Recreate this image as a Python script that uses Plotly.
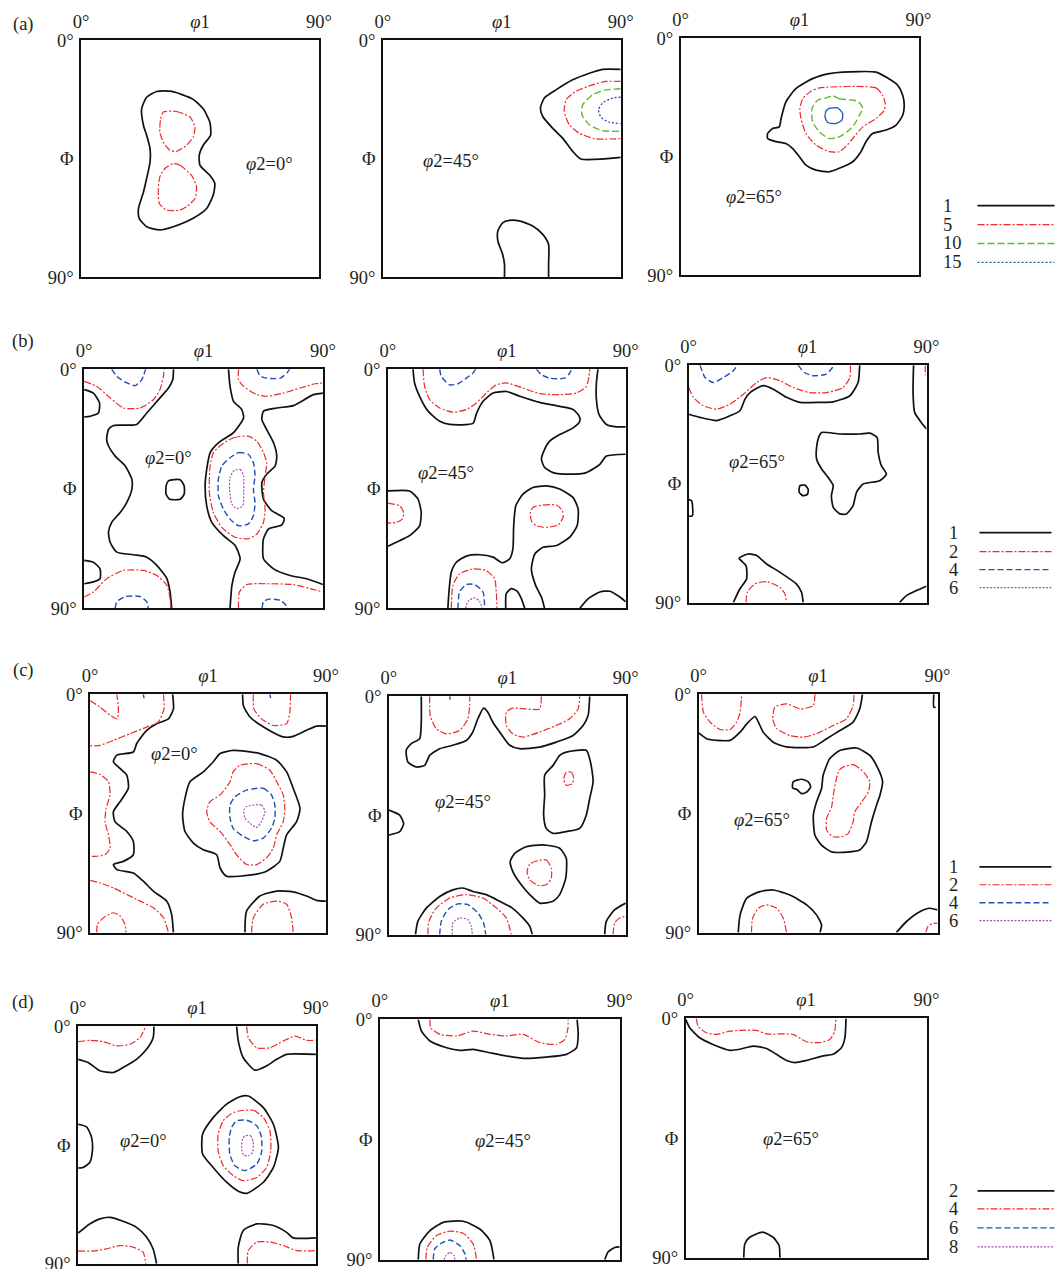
import plotly.graph_objects as go

# ---------------- data: contour lines of ODF sections (phi1, Phi in degrees) ----------------
ROW_LABELS = ["(a)", "(b)", "(c)", "(d)"]
LEVELS_A = ["1", "5", "10", "15"]
LEVELS_B = ["1", "2", "4", "6"]
LEVELS_C = ["1", "2", "4", "6"]
LEVELS_D = ["2", "4", "6", "8"]
SECTION_LABELS = ["<i>φ</i>2=0°", "<i>φ</i>2=45°", "<i>φ</i>2=65°"]
X_TICKS = ["0°", "<i>φ</i>1", "90°"]
Y_TICKS = ["0°", "Φ", "90°"]

# ---- (a) phi2=0
A1_K0 = [(28.6,19.5),(34.3,19.5),(42.4,22.5),(46.2,26.1),(48.7,31.1),(49.0,36.1),(46.2,39.9),(44.7,43.7),(45.0,47.5),(48.7,51.3),(50.6,54.4),(50.0,58.8),(47.5,63.9),(42.4,67.6),(34.9,70.8),(29.8,72.0),(24.8,70.8),(22.0,67.6),(21.7,63.9),(23.6,57.6),(24.8,52.5),(26.1,46.2),(26.1,41.2),(24.8,36.1),(23.6,32.4),(22.9,26.1),(24.8,21.7)]
A1_K1_UP = [(31.1,27.3),(36.1,27.1),(41.2,29.2),(43.1,33.0),(42.4,36.8),(39.9,39.9),(36.1,42.2),(33.6,41.8),(31.1,38.7),(29.8,34.9),(30.1,29.8)]
A1_K1_LO = [(34.9,46.9),(37.4,47.5),(41.8,51.3),(43.7,55.7),(43.1,60.1),(39.9,63.2),(37.4,64.5),(32.4,64.5),(29.6,62.0),(29.2,56.3),(29.8,51.9),(31.7,48.7)]
# ---- (a) phi2=45
A2_K0_TOP = [(90,11.1),(83.1,11.1),(78.1,12.6),(71.8,15.1),(65.5,18.9),(61.1,22.0),(59.6,25.8),(60.5,29.0),(64.2,33.4),(68.0,37.2),(71.8,42.2),(74.9,45.1),(90,44.5)]
A2_K1 = [(90,15.7),(84.4,15.7),(79.3,17.0),(73.0,19.5),(69.3,22.7),(68.6,27.1),(70.5,32.1),(74.3,35.3),(80.0,37.4),(90,37.4)]
A2_K2 = [(90,18.5),(84.4,18.9),(79.3,20.8),(75.6,24.6),(75.3,28.3),(78.1,32.1),(83.1,34.4),(90,34.6)]
A2_K3 = [(90,21.7),(86.9,22.0),(83.1,23.9),(81.6,26.4),(82.5,29.3),(85.6,31.1),(90,31.7)]
A2_K0_BOT = [(46.0,90),(46.0,85.0),(45.3,81.2),(43.5,76.2),(43.5,72.4),(45.3,69.3),(47.9,68.4),(51.6,68.6),(56.7,70.5),(60.5,73.7),(62.7,77.5),(62.7,85.0),(62.7,90)]
# ---- (a) phi2=65
A3_K0 = [(61.3,12.9),(73.9,12.9),(77.7,14.8),(82.1,17.9),(84.0,21.7),(84.6,25.5),(84.0,29.3),(81.5,33.0),(77.7,34.9),(72.6,36.2),(70.1,39.3),(68.2,43.1),(65.1,46.9),(60.0,49.4),(56.2,50.7),(51.2,50.1),(47.4,48.2),(44.9,45.0),(42.4,41.9),(39.8,40.0),(36.1,39.3),(32.9,38.1),(32.9,36.2),(34.8,34.3),(37.3,33.7),(38.0,30.5),(39.8,24.2),(43.6,19.2),(49.9,15.4),(56.2,13.5)]
A3_K1 = [(52.5,18.9),(73.9,18.9),(76.4,21.7),(77.4,24.8),(77.0,27.4),(73.9,30.5),(68.9,33.7),(65.1,38.1),(62.5,41.2),(60.0,43.1),(56.2,43.1),(51.2,40.6),(47.4,36.2),(45.5,30.5),(45.1,26.7),(46.2,23.0),(49.3,20.2)]
A3_K2 = [(57.5,21.9),(60.0,23.0),(67.0,24.0),(68.9,26.7),(67.6,29.3),(66.3,31.8),(63.8,34.9),(60.0,37.5),(56.2,38.1),(52.5,35.6),(49.9,31.8),(49.7,26.7),(51.8,23.6),(55.0,22.7)]
A3_K3 = [(56.2,26.7),(59.4,26.5),(61.3,28.6),(61.0,31.1),(58.8,32.4),(55.6,32.0),(54.6,29.9),(55.0,27.7)]

# ---- (b) phi2=0
B1_K0_L = [(33.7,0),(33.4,4.0),(31.8,7.1),(28.6,10.8),(23.6,16.5),(19.8,20.8),(11.1,21.2),(9.2,22.7),(8.5,26.4),(9.2,28.9),(11.7,32.7),(15.5,36.4),(18.0,41.4),(18.0,45.1),(16.1,50.1),(13.6,53.9),(10.4,57.6),(9.2,61.3),(9.8,65.1),(12.3,68.8),(18.6,69.8),(23.6,70.7),(27.4,73.8),(31.2,78.8),(32.4,83.8),(33.0,90)]
B1_K0_A = [(54.4,0),(55.0,6.5),(56.3,12.1),(59.4,15.2),(60.1,18.3),(56.3,23.9),(50.6,27.7),(47.5,31.4),(46.2,37.7),(45.6,43.9),(46.2,51.4),(48.1,57.6),(52.5,62.6),(56.9,66.3),(58.8,71.3),(56.9,76.3),(55.7,81.3),(55.0,90)]
B1_K0_B = [(90,9.0),(86.4,9.6),(78.9,13.7),(72.6,14.6),(67.6,15.8),(67.0,19.0),(68.8,22.7),(71.4,27.7),(72.6,32.7),(72.0,36.4),(68.8,39.5),(67.0,42.6),(67.6,48.9),(70.7,53.2),(75.4,56.1),(74.5,58.6),(69.5,60.1),(67.6,63.8),(67.6,71.3),(71.4,75.1),(77.6,77.6),(83.9,78.8),(90,81.0)]
B1_K0_E1 = [(0,7.7),(3.5,9.0),(5.8,12.7),(5.4,16.5),(2.3,17.7),(0,18.0)]
B1_K0_E2 = [(0,71.9),(3.5,72.6),(6.0,75.1),(6.0,78.8),(3.5,80.0),(0,80.7)]
B1_K0_DOT = [(31.8,42.0),(36.2,41.6),(37.7,43.9),(37.7,47.0),(36.2,48.9),(32.2,48.9),(30.9,47.0),(30.9,43.9)]
B1_K1_TL = [(0,4.6),(4.8,6.5),(9.8,10.8),(14.8,14.6),(21.1,14.6),(26.1,11.5),(28.6,7.7),(29.9,2.7),(30.2,0)]
B1_K2_TL = [(10.4,0),(12.3,2.7),(16.1,5.2),(19.2,6.2),(21.7,4.0),(23.2,0)]
B1_K1_TR = [(58.2,0),(58.2,4.0),(60.1,6.5),(65.1,9.6),(68.8,10.2),(75.1,9.0),(81.4,7.1),(87.1,5.5),(90,5.2)]
B1_K2_TR = [(65.1,0),(66.3,2.5),(68.8,3.4),(73.9,3.4),(76.4,1.5),(77.4,0)]
B1_K1_C = [(51.9,28.3),(56.3,25.8),(61.9,25.2),(65.1,27.1),(67.6,31.4),(68.8,35.2),(68.2,40.1),(67.6,46.4),(68.2,52.6),(67.6,57.6),(65.1,62.0),(61.9,63.8),(56.9,63.2),(51.9,59.5),(48.7,53.9),(47.2,46.4),(47.5,36.4),(48.7,31.4)]
B1_K2_C = [(55.0,33.3),(58.2,31.4),(61.9,32.0),(63.8,35.2),(64.4,40.1),(63.8,45.1),(64.4,50.1),(63.8,55.1),(61.9,58.2),(58.2,58.9),(55.0,56.4),(52.5,52.6),(50.6,47.6),(50.6,41.4),(51.9,36.4)]
B1_K3_C = [(56.3,38.3),(58.8,37.7),(60.1,40.1),(60.1,46.4),(59.8,51.4),(57.5,52.4),(55.7,50.7),(54.8,45.1),(55.0,40.8)]
B1_K1_BL = [(0,85.7),(3.5,83.8),(8.5,78.8),(14.8,75.7),(22.4,75.7),(27.4,77.6),(31.2,81.3),(32.4,86.3),(32.7,90)]
B1_K2_BL = [(11.7,90),(12.3,87.5),(15.5,85.5),(21.1,85.5),(23.6,87.5),(24.2,90)]
B1_K1_BR = [(58.2,90),(58.5,83.8),(61.3,81.0),(68.8,80.7),(78.9,81.0),(85.2,82.5),(90,83.8)]
B1_K2_BR = [(67.0,90),(67.6,87.5),(69.5,86.5),(73.9,86.9),(76.1,88.8),(76.4,90)]

# ---- (b) phi2=45
B2_K0_1 = [(9.5,0),(10.1,5.2),(12.0,10.2),(15.2,15.8),(19.6,19.6),(23.4,20.8),(32.2,20.4),(33.5,16.7),(36.0,12.1),(39.8,9.0),(44.8,8.4),(49.9,10.2),(57.4,12.5),(65.0,14.0),(70.1,15.2),(72.3,17.5),(72.6,19.6),(70.1,22.1),(65.0,24.6),(61.2,27.1),(59.0,30.8),(58.1,33.9),(59.3,37.0),(62.5,38.9),(68.8,39.5),(75.1,38.9),(80.2,35.8),(82.7,32.7),(90,32.0)]
B2_K0_2 = [(79.5,0),(78.9,5.2),(78.9,11.5),(79.9,17.1),(82.7,20.8),(86.5,21.7),(90,21.7)]
B2_K0_3 = [(0,45.8),(8.2,45.8),(11.4,48.9),(12.6,53.9),(12.0,58.9),(8.2,62.6),(4.4,64.5),(0,66.6)]
B2_K1_3 = [(0,50.4),(4.4,51.4),(6.0,53.9),(5.4,56.4),(3.2,57.6),(0,57.9)]
B2_K0_4 = [(22.7,90),(23.1,83.8),(24.0,76.3),(25.9,72.6),(29.7,70.3),(34.7,69.8),(39.8,70.7),(43.3,72.8),(46.1,71.3),(47.3,67.6),(47.6,58.9),(48.4,51.4),(51.1,47.0),(54.9,44.5),(60.0,43.9),(65.0,45.1),(70.1,48.3),(72.0,52.6),(71.6,58.9),(68.8,63.2),(63.8,66.3),(58.7,67.0),(55.6,69.5),(54.3,75.1),(55.9,81.3),(58.1,85.7),(59.3,90)]
B2_K0_5 = [(44.6,90),(44.8,84.4),(46.7,82.5),(48.9,83.5),(50.5,86.3),(51.8,90)]
B2_K0_6 = [(72.6,90),(75.8,86.3),(80.2,83.8),(84.0,83.5),(87.8,85.7),(90,87.5)]
B2_K1_M = [(54.9,52.0),(58.7,51.1),(63.8,51.1),(66.0,53.2),(66.3,55.7),(64.4,58.6),(60.0,59.5),(56.2,58.9),(54.3,57.0),(53.9,53.9)]
B2_K1_T = [(13.3,0),(13.9,6.5),(15.8,11.5),(19.6,14.6),(24.6,16.2),(29.7,15.2),(33.5,12.7),(37.2,9.0),(41.0,5.9),(44.8,5.2),(51.1,7.1),(57.4,9.2),(65.0,9.6),(71.3,9.0),(75.1,6.5),(76.1,2.7),(76.4,0)]
B2_K2_T1 = [(19.6,0),(20.2,2.7),(23.4,5.9),(26.5,5.5),(29.7,3.4),(32.2,1.5),(33.2,0)]
B2_K2_T2 = [(56.2,0),(58.1,2.1),(61.2,3.4),(66.9,3.4),(68.8,1.5),(69.4,0)]
B2_K1_B = [(24.0,90),(24.6,81.3),(27.1,77.0),(32.2,75.1),(37.2,75.7),(40.4,78.8),(41.0,83.8),(41.3,90)]
B2_K2_B = [(26.5,90),(27.1,83.8),(29.7,81.0),(32.8,81.0),(36.0,83.8),(36.6,90)]
B2_K3_B = [(29.4,90),(30.3,87.3),(32.8,86.0),(34.7,87.3),(35.7,90)]

# ---- (b) phi2=65
B3_K0_T = [(0,18.6),(4.3,19.8),(10.6,21.0),(15.6,19.2),(19.4,17.3),(21.3,12.9),(23.2,10.4),(28.2,7.8),(32.0,9.1),(37.0,12.2),(42.1,14.1),(49.6,14.1),(54.7,13.9),(61.0,11.6),(64.1,6.6),(64.7,0)]
B3_K1_T = [(0,8.5),(1.8,12.2),(5.5,15.4),(10.6,16.7),(15.6,14.8),(20.7,11.0),(25.7,6.6),(29.5,4.7),(34.5,5.9),(39.5,8.5),(45.8,10.4),(52.1,10.4),(58.4,8.5),(61.0,4.7),(61.2,0)]
B3_K2_T1 = [(4.3,0),(6.2,4.7),(9.3,6.6),(13.1,4.7),(16.9,2.1),(18.4,0)]
B3_K2_T2 = [(41.4,0),(43.8,2.8),(47.1,4.0),(52.1,3.4),(54.4,0.9),(54.9,0)]
B3_K0_R = [(85.1,0),(84.9,10.4),(85.5,17.9),(88.0,21.7),(90,24.2)]
B3_K1_R = [(89.5,0),(89.5,3.8)]
B3_K0_BLOB = [(50.3,25.5),(57.2,26.1),(64.7,26.1),(68.5,25.8),(71.3,27.4),(71.7,33.1),(72.9,38.1),(74.8,41.3),(72.3,43.8),(66.0,45.1),(63.5,48.2),(62.2,53.3),(59.7,56.4),(57.2,56.4),(54.7,53.9),(54.0,49.5),(54.7,45.7),(52.8,42.6),(50.3,39.4),(48.4,35.6),(48.4,31.2),(49.4,26.8)]
B3_K0_DOT = [(42.1,45.7),(44.0,45.5),(45.2,47.0),(45.0,48.9),(43.3,49.5),(41.8,48.2)]
B3_K0_L = [(0,51.0),(1.1,51.4),(1.4,57.1),(0,57.3)]
B3_K0_B = [(16.9,90),(19.4,84.8),(21.9,81.1),(21.7,76.0),(19.1,73.2),(22.5,71.6),(25.7,72.2),(29.5,75.4),(34.5,78.5),(40.8,83.0),(42.7,86.1),(43.3,90)]
B3_K1_B = [(21.7,90),(22.2,86.1),(25.1,82.9),(29.5,82.1),(34.5,84.2),(36.4,86.7),(37.0,90)]
B3_K0_BR = [(79.8,90),(82.4,87.4),(86.1,85.5),(90,83.8)]

# ---- (c) phi2=0
C1_K0_L = [(31.5,0),(31.8,5.5),(29.9,9.3),(25.4,11.1),(21.6,13.6),(17.8,18.6),(16.5,21.8),(10.2,23.0),(8.9,25.5),(11.4,28.0),(14.0,30.5),(14.6,35.5),(11.4,40.6),(8.9,44.3),(9.5,48.1),(14.0,51.8),(16.5,55.6),(16.5,60.6),(12.7,63.1),(8.9,64.3),(10.2,66.2),(16.5,67.5),(20.3,70.6),(24.1,74.3),(29.2,78.1),(31.1,83.1),(31.8,90)]
C1_K1_TL1 = [(0,2.4),(3.8,4.9),(7.6,7.8),(10.4,9.3),(10.8,5.5),(10.2,0)]
C1_K1_TL2 = [(28.0,0),(28.2,5.5),(26.0,10.5),(21.6,12.4),(15.2,14.9),(8.9,17.4),(3.8,19.3),(0,19.5)]
C1_K2_T1 = [(20.3,0),(20.6,1.5)]
C1_K2_T2 = [(68.6,0),(68.9,1.5)]
C1_K1_ML = [(0,29.3),(3.8,30.3),(7.0,33.0),(7.6,38.0),(6.1,43.1),(5.7,48.1),(7.0,53.1),(7.6,58.1),(5.7,60.6),(1.9,61.2),(0,61.2)]
C1_K1_BL1 = [(0,70.3),(3.8,71.2),(8.9,73.1),(14.0,75.6),(19.1,78.1),(24.1,80.6),(28.0,84.4),(29.9,90)]
C1_K1_BL2 = [(2.5,90),(2.8,86.9),(5.1,84.4),(8.9,82.5),(11.4,83.7),(13.3,86.9),(13.7,90)]
C1_K0_TR = [(58.2,0),(58.5,4.3),(61.0,8.6),(67.3,13.0),(73.7,16.1),(77.5,15.9),(82.6,13.6),(86.4,12.0),(90,12.0)]
C1_K1_TR = [(62.3,0),(62.5,5.5),(65.4,9.3),(69.9,11.8),(75.0,11.1),(76.2,6.8),(76.5,0)]
C1_K0_C = [(49.6,22.4),(54.6,21.2),(64.8,22.4),(71.2,24.9),(75.0,29.3),(77.5,35.5),(80.1,43.1),(78.8,48.1),(75.0,53.1),(73.7,58.1),(72.4,63.1),(67.3,66.8),(62.3,68.1),(52.1,68.7),(49.6,65.6),(48.3,60.6),(43.2,58.7),(39.4,56.2),(36.2,51.8),(35.3,45.6),(36.2,39.3),(38.1,33.0),(43.2,29.3),(47.0,25.5)]
C1_K1_C = [(57.2,26.8),(63.5,26.2),(68.6,28.7),(71.2,33.0),(73.7,38.0),(74.3,43.1),(73.7,48.1),(71.2,53.1),(69.9,58.1),(67.3,61.8),(63.5,64.3),(59.7,64.3),(55.9,60.6),(53.4,56.8),(49.6,51.8),(45.7,48.1),(44.5,44.3),(45.7,40.6),(49.6,38.0),(53.4,33.0),(54.6,29.3)]
C1_K2_C = [(59.7,36.2),(66.1,35.5),(69.2,38.0),(70.5,41.8),(70.5,46.8),(69.2,50.6),(66.1,54.3),(62.3,55.3),(58.5,53.7),(54.6,50.6),(53.4,46.8),(53.4,41.8),(55.3,38.7)]
C1_K3_C = [(59.7,42.4),(65.4,41.8),(66.7,44.3),(65.4,48.1),(63.5,50.3),(61.0,48.7),(59.1,46.8),(58.7,43.7)]
C1_K0_BR = [(59.1,90),(59.7,81.9),(64.8,76.2),(71.2,74.3),(77.5,74.6),(82.6,76.2),(86.4,77.8),(90,78.1)]
C1_K1_BR = [(61.6,90),(62.3,84.4),(66.1,79.3),(71.2,78.1),(75.0,79.3),(76.9,84.4),(77.5,90)]

# ---- (c) phi2=45
C2_K0_T = [(12.3,0),(12.3,9.8),(11.7,16.0),(8.5,17.9),(6.6,20.4),(7.2,24.8),(10.4,26.7),(13.6,26.1),(15.5,22.3),(19.3,19.8),(24.3,18.5),(29.4,16.7),(31.9,13.5),(33.8,8.5),(36.0,4.5),(37.6,6.0),(39.5,9.8),(42.1,13.5),(45.9,18.5),(49.7,19.8),(57.3,19.2),(63.6,17.3),(70.0,14.8),(73.8,11.0),(75.7,7.3),(76.3,0)]
C2_K1_T1 = [(15.5,0),(15.7,7.3),(18.0,12.3),(21.8,14.2),(26.9,12.9),(30.0,8.5),(30.7,3.5),(30.7,0)]
C2_K2_T = [(23.1,0),(23.3,1.3)]
C2_K1_T2 = [(57.9,0),(57.3,4.8),(52.2,4.8),(47.1,4.5),(44.6,6.0),(44.6,11.0),(47.1,14.2),(51.0,15.4),(57.3,13.5),(63.6,11.0),(68.7,8.5),(71.9,4.8),(72.5,0)]
C2_K0_R = [(67.4,21.1),(75.0,20.4),(76.6,24.8),(77.6,32.3),(76.3,38.6),(75.0,44.9),(72.5,49.9),(67.4,51.1),(62.4,51.8),(59.8,49.9),(58.8,44.9),(59.2,37.3),(59.2,29.8),(62.4,26.1),(64.9,22.3)]
C2_K1_R = [(67.4,28.8),(69.3,28.6),(70.2,30.8),(69.7,33.0),(67.4,33.6),(66.4,31.3)]
C2_K0_L = [(0,43.0),(4.1,44.9),(5.6,48.1),(4.1,51.1),(0,52.4)]
C2_K0_M = [(52.2,56.8),(58.6,56.1),(64.9,57.4),(67.4,61.2),(67.2,68.7),(64.9,74.9),(62.4,77.4),(57.3,78.1),(53.5,74.9),(50.3,71.2),(47.1,66.2),(46.1,62.4),(47.8,59.3)]
C2_K1_M = [(56.0,62.2),(59.8,61.8),(61.7,64.9),(61.7,68.7),(59.8,71.2),(56.7,71.4),(53.5,69.3),(52.5,66.2),(53.5,63.4)]
C2_K0_B = [(10.1,90),(11.0,85.0),(14.2,80.0),(19.3,75.6),(24.3,73.1),(28.1,72.4),(31.9,73.7),(37.0,74.9),(42.1,77.4),(46.8,79.9),(50.9,83.7),(53.5,86.8),(54.5,90)]
C2_K1_B = [(14.8,90),(15.2,85.0),(18.0,80.0),(23.1,76.2),(29.4,74.9),(35.7,76.2),(40.8,79.9),(44.6,83.7),(46.5,90)]
C2_K2_B = [(19.3,90),(19.9,85.0),(22.4,80.6),(26.2,78.4),(30.0,78.7),(33.8,81.8),(36.0,85.6),(36.8,90)]
C2_K3_B = [(24.1,90),(24.3,85.6),(26.9,83.7),(30.0,84.3),(31.3,86.8),(31.7,90)]
C2_K0_BR = [(82.0,90),(82.6,85.0),(85.8,80.6),(90,78.1)]
C2_K1_BR = [(85.2,90),(85.8,85.6),(87.7,83.7),(90,83.1)]

# ---- (c) phi2=65
C3_K0_T = [(0,14.6),(3.0,16.8),(6.8,17.4),(11.8,17.4),(15.6,14.3),(18.1,11.2),(21.2,8.4),(22.5,10.5),(24.3,14.3),(28.1,18.1),(33.1,19.9),(43.2,19.9),(48.2,16.8),(53.2,13.7),(58.2,10.5),(60.7,5.5),(61.7,0)]
C3_K1_T1 = [(1.1,0),(1.8,6.8),(4.3,10.5),(8.0,13.3),(11.8,13.3),(14.3,10.5),(15.6,6.8),(16.2,0)]
C3_K1_T2 = [(43.8,0),(43.2,4.3),(38.1,5.5),(33.1,3.6),(28.7,4.9),(27.9,9.3),(29.4,13.0),(34.4,15.6),(39.4,16.2),(44.4,14.9),(50.7,11.8),(55.7,9.3),(58.2,4.3),(58.5,0)]
C3_K0_R = [(88.6,0),(88.6,4.9),(89.3,4.9)]
C3_K0_BLOB = [(53.2,21.2),(59.5,20.3),(64.5,23.1),(67.6,28.1),(69.3,33.1),(68.3,38.1),(67.0,41.9),(65.1,48.2),(63.2,55.7),(60.7,58.8),(57.0,59.5),(50.1,59.5),(46.3,57.0),(43.8,53.2),(43.2,45.7),(44.4,40.7),(46.3,35.6),(46.9,30.6),(49.4,24.3)]
C3_K1_BLOB = [(54.5,27.5),(58.2,26.6),(62.2,29.4),(64.5,33.1),(63.9,36.9),(61.4,40.7),(58.8,44.4),(58.2,48.2),(56.3,52.6),(53.8,53.8),(50.7,53.8),(48.2,51.3),(48.2,46.9),(50.1,42.5),(50.7,38.1),(51.9,31.9),(52.9,28.7)]
C3_K0_DOT = [(35.6,33.1),(38.8,32.1),(41.3,33.1),(42.2,35.0),(40.7,36.9),(38.8,37.5),(36.9,35.9),(35.4,35.4)]
C3_K0_B = [(14.9,90),(15.6,83.3),(18.1,77.0),(23.1,74.5),(28.1,73.9),(34.4,75.8),(40.7,79.5),(44.4,83.3),(46.3,87.1),(45.7,90)]
C3_K1_B = [(19.9,90),(20.3,84.6),(22.5,80.8),(25.6,79.5),(29.4,80.8),(31.9,84.6),(33.1,90)]
C3_K0_BR = [(74.5,90),(78.3,85.8),(83.3,82.1),(87.1,80.8),(90,81.4)]
C3_K1_BR = [(85.6,90),(86.4,87.7),(88.3,86.5),(90,86.5)]

# ---- (d) phi2=0
D1_K0_TL = [(0,12.5),(3.8,13.7),(8.2,16.8),(13.3,17.5),(17.0,15.6),(22.1,12.5),(25.9,8.7),(28.4,4.3),(28.7,0)]
D1_K1_TL = [(0,5.8),(4.4,5.3),(9.5,5.8),(14.5,7.4),(19.6,6.8),(23.4,4.3),(25.5,0)]
D1_K0_TR = [(60.0,0),(60.6,5.5),(62.5,11.9),(66.9,16.6),(71.3,15.0),(75.1,12.5),(78.9,10.6),(90,10.6)]
D1_K1_TR = [(63.8,0),(64.4,4.3),(67.6,8.1),(72.6,8.1),(77.7,5.5),(82.1,3.7),(86.5,5.3),(90,5.3)]
D1_K0_C = [(61.2,26.7),(64.4,26.4),(70.1,30.8),(73.9,37.1),(75.8,45.9),(73.9,53.5),(70.1,59.1),(63.8,63.3),(60.6,62.5),(56.2,59.1),(51.1,53.5),(47.1,48.4),(47.1,40.9),(51.1,34.6),(56.2,29.5)]
D1_K1_C = [(61.2,32.0),(66.3,31.8),(70.1,34.6),(72.6,39.6),(72.9,47.2),(71.3,53.5),(67.6,57.3),(62.5,58.5),(58.7,56.6),(54.9,52.8),(53.0,47.2),(53.0,40.9),(54.9,35.8),(58.1,33.0)]
D1_K2_C = [(60.0,35.8),(63.8,35.6),(67.6,37.7),(69.4,42.1),(69.4,47.8),(67.6,52.2),(63.1,54.7),(59.3,52.8),(57.4,48.4),(57.2,42.1),(58.1,38.3)]
D1_K3_C = [(63.1,41.5),(65.3,41.5),(66.3,44.0),(66.0,47.8),(64.4,49.1),(62.5,48.7),(61.9,45.9),(62.2,42.8)]
D1_K0_L = [(0,37.1),(3.2,38.1),(5.1,42.1),(5.4,47.2),(4.4,51.6),(1.9,53.5),(0,53.7)]
D1_K0_BL = [(0,78.4),(4.4,74.9),(8.2,73.0),(12.0,72.4),(17.0,73.9),(22.1,76.2),(25.9,79.9),(28.4,84.4),(29.7,90)]
D1_K1_BL = [(0,85.2),(5.7,85.2),(10.7,84.4),(15.8,83.1),(20.8,83.7),(24.6,85.6),(25.6,90)]
D1_K0_BR = [(60.6,90),(60.6,83.7),(62.5,77.4),(67.6,74.9),(73.9,75.5),(78.9,78.1),(81.4,80.2),(90,80.2)]
D1_K1_BR = [(64.0,90),(64.4,85.0),(67.6,81.8),(72.6,81.8),(77.7,83.1),(82.7,85.0),(90,85.0)]

# ---- (d) phi2=45
D2_K0_T = [(14.4,0),(15.6,4.4),(18.8,8.1),(25.0,10.6),(30.0,11.6),(35.0,11.2),(41.3,12.5),(47.5,13.7),(53.8,14.6),(62.5,14.1),(70.0,13.1),(73.8,10.6),(74.4,5.6),(74.0,0)]
D2_K1_T = [(18.8,0),(19.0,3.1),(22.5,5.6),(28.8,6.2),(35.0,4.4),(41.3,5.6),(47.5,6.2),(53.8,5.6),(60.0,8.7),(66.3,9.3),(69.4,7.5),(70.6,3.1),(70.6,0)]
D2_K0_B = [(14.4,90),(15.0,84.1),(18.8,79.1),(23.8,76.0),(31.3,75.6),(37.5,78.5),(41.3,82.8),(42.8,90)]
D2_K1_B = [(17.3,90),(17.8,85.3),(21.3,80.9),(26.3,79.3),(31.3,80.1),(35.0,84.1),(36.3,90)]
D2_K2_B = [(20.0,90),(20.6,85.9),(23.1,83.8),(26.3,82.6),(30.0,84.7),(31.9,87.8),(32.3,90)]
D2_K3_B = [(24.0,90),(24.8,88.4),(26.3,87.2),(27.8,88.4),(28.1,90)]
D2_K0_BR = [(84.4,90),(85.6,87.1),(88.1,85.4),(90,85.2)]

# ---- (d) phi2=65
D3_K0_T = [(0,0.4),(1.5,3.5),(5.2,7.3),(10.2,9.8),(16.5,12.0),(20.2,11.6),(25.2,10.4),(30.2,11.3),(33.9,13.5),(37.7,15.8),(40.8,16.6),(45.1,15.8),(51.4,14.1),(55.1,13.5),(58.2,11.0),(59.5,7.3),(59.9,0)]
D3_K1_T = [(4.0,0),(4.6,2.9),(7.7,5.4),(11.5,6.0),(16.5,4.8),(20.2,4.5),(26.4,4.5),(30.2,5.8),(40.1,6.0),(45.1,8.8),(50.1,9.1),(53.9,7.9),(55.7,4.8),(56.1,0)]
D3_K0_B = [(21.7,90),(22.1,84.8),(23.9,82.3),(28.7,80.4),(32.7,82.3),(34.9,85.4),(35.2,90)]

# (level index, points, closed)
PANELS = [
    [(0, A1_K0, True), (1, A1_K1_UP, True), (1, A1_K1_LO, True)],
    [(0, A2_K0_TOP, False), (1, A2_K1, False), (2, A2_K2, False), (3, A2_K3, False), (0, A2_K0_BOT, False)],
    [(0, A3_K0, True), (1, A3_K1, True), (2, A3_K2, True), (3, A3_K3, True)],
    [(0, B1_K0_L, False), (0, B1_K0_A, False), (0, B1_K0_B, False), (0, B1_K0_E1, False), (0, B1_K0_E2, False),
     (0, B1_K0_DOT, True), (1, B1_K1_TL, False), (2, B1_K2_TL, False), (1, B1_K1_TR, False), (2, B1_K2_TR, False),
     (1, B1_K1_C, True), (2, B1_K2_C, True), (3, B1_K3_C, True), (1, B1_K1_BL, False), (2, B1_K2_BL, False),
     (1, B1_K1_BR, False), (2, B1_K2_BR, False)],
    [(0, B2_K0_1, False), (0, B2_K0_2, False), (0, B2_K0_3, False), (1, B2_K1_3, False), (0, B2_K0_4, False),
     (0, B2_K0_5, False), (0, B2_K0_6, False), (1, B2_K1_M, True), (1, B2_K1_T, False), (2, B2_K2_T1, False),
     (2, B2_K2_T2, False), (1, B2_K1_B, False), (2, B2_K2_B, False), (3, B2_K3_B, False)],
    [(0, B3_K0_T, False), (1, B3_K1_T, False), (2, B3_K2_T1, False), (2, B3_K2_T2, False), (0, B3_K0_R, False),
     (1, B3_K1_R, False), (0, B3_K0_BLOB, True), (0, B3_K0_DOT, True), (0, B3_K0_L, False), (0, B3_K0_B, False),
     (1, B3_K1_B, False), (0, B3_K0_BR, False)],
    [(0, C1_K0_L, False), (1, C1_K1_TL1, False), (1, C1_K1_TL2, False), (2, C1_K2_T1, False), (2, C1_K2_T2, False),
     (1, C1_K1_ML, False), (1, C1_K1_BL1, False), (1, C1_K1_BL2, False), (0, C1_K0_TR, False), (1, C1_K1_TR, False),
     (0, C1_K0_C, True), (1, C1_K1_C, True), (2, C1_K2_C, True), (3, C1_K3_C, True), (0, C1_K0_BR, False),
     (1, C1_K1_BR, False)],
    [(0, C2_K0_T, False), (1, C2_K1_T1, False), (2, C2_K2_T, False), (1, C2_K1_T2, False), (0, C2_K0_R, True),
     (1, C2_K1_R, True), (0, C2_K0_L, False), (0, C2_K0_M, True), (1, C2_K1_M, True), (0, C2_K0_B, False),
     (1, C2_K1_B, False), (2, C2_K2_B, False), (3, C2_K3_B, False), (0, C2_K0_BR, False), (1, C2_K1_BR, False)],
    [(0, C3_K0_T, False), (1, C3_K1_T1, False), (1, C3_K1_T2, False), (0, C3_K0_R, False), (0, C3_K0_BLOB, True),
     (1, C3_K1_BLOB, True), (0, C3_K0_DOT, True), (0, C3_K0_B, False), (1, C3_K1_B, False), (0, C3_K0_BR, False),
     (1, C3_K1_BR, False)],
    [(0, D1_K0_TL, False), (1, D1_K1_TL, False), (0, D1_K0_TR, False), (1, D1_K1_TR, False), (0, D1_K0_C, True),
     (1, D1_K1_C, True), (2, D1_K2_C, True), (3, D1_K3_C, True), (0, D1_K0_L, False), (0, D1_K0_BL, False),
     (1, D1_K1_BL, False), (0, D1_K0_BR, False), (1, D1_K1_BR, False)],
    [(0, D2_K0_T, False), (1, D2_K1_T, False), (0, D2_K0_B, False), (1, D2_K1_B, False), (2, D2_K2_B, False),
     (3, D2_K3_B, False), (0, D2_K0_BR, False)],
    [(0, D3_K0_T, False), (1, D3_K1_T, False), (0, D3_K0_B, False)],
]
LABEL_POS = [(71.4, 46.9), (25.8, 46.0), (27.9, 60.1),
             (31.8, 33.3), (22.1, 38.9), (25.7, 36.6),
             (32.4, 22.4), (28.1, 39.8), (23.7, 47.6),
             (24.6, 43.4), (46.3, 45.5), (39.5, 45.4)]
ROW_LEVELS = [LEVELS_A, LEVELS_B, LEVELS_C, LEVELS_D]

# ---------------- styling / layout ----------------
# measured: the photographed page shows a ~1076x1286 region (8 px body margin) scaled to 1056x1269
OFF = 8
SX, SY = 0.981, 0.987
W, H = 1068, 1278
FONT = "Liberation Serif"
TXT = "#231f20"
FS = 18.5
BLACK = dict(color="#111111", width=1.7, dash="solid")
RED = dict(color="#ee2a2a", width=1.2, dash="7px,2px,2px,2px")
GREEN = dict(color="#66b832", width=1.4, dash="7px,3px")
BLUE_DASH = dict(color="#2050b0", width=1.4, dash="6px,3px")
BLUE_DOT = dict(color="#2050b0", width=1.3, dash="2px,2px")
MAG = dict(color="#b347b8", width=1.2, dash="2px,1.5px")
ROW_STYLES = [[BLACK, RED, GREEN, BLUE_DOT], [BLACK, RED, BLUE_DASH, MAG],
              [BLACK, RED, BLUE_DASH, MAG], [BLACK, RED, BLUE_DASH, MAG]]


def px(x):
    return min(1.0, max(0.0, (x / SX - OFF) / W))


def py(y):
    return min(1.0, max(0.0, 1 - (y / SY - OFF) / H))


# panel frames in target pixels: (left, top, right, bottom)
BOXES = [(81, 38, 319, 276), (383, 38, 621, 276), (681, 36, 919, 274),
         (84, 368, 323, 608), (388, 368, 626, 608), (689, 364, 927, 602),
         (90, 694, 326, 933), (389, 696, 626, 935), (699, 694, 938, 933),
         (78, 1027, 316, 1265), (380, 1020, 620, 1261), (686, 1019, 927, 1259)]
ROW_LABEL_POS = [(23, 22), (23, 340), (23, 670), (23, 1003)]
LEG_TEXT_X = [941, 947, 947, 947]
LEG_LINE = [(978, 1055), (980, 1052), (980, 1052), (978, 1055)]
LEG_Y = [(204, 223, 242, 261), (532, 551, 569, 587), (867, 885, 903, 921), (1192, 1210, 1229, 1248)]

fig = go.Figure()
layout = dict(width=W, height=H, margin=dict(l=0, r=0, t=0, b=0),
              paper_bgcolor="white", plot_bgcolor="white", showlegend=False,
              font=dict(family=FONT, size=FS, color=TXT))
annotations, shapes = [], []

for i, (contours, box) in enumerate(zip(PANELS, BOXES)):
    row = i // 3
    n = "" if i == 0 else str(i + 1)
    xa, ya = "x" + n, "y" + n
    l, t, r, b = box
    axis_common = dict(showline=True, mirror=True, linecolor="#111111", linewidth=1.5,
                       showgrid=False, zeroline=False, ticks="", tickvals=[0, 45, 90],
                       tickfont=dict(family=FONT, size=FS, color=TXT), fixedrange=True)
    layout["xaxis" + n] = dict(axis_common, domain=[px(l), px(r)], range=[0, 90], side="top",
                               ticktext=X_TICKS, anchor=ya, ticklabelstandoff=3)
    layout["yaxis" + n] = dict(axis_common, domain=[py(b), py(t)], range=[90, 0],
                               ticktext=Y_TICKS, anchor=xa, ticklabelstandoff=2)
    for lev, pts, closed in contours:
        st = ROW_STYLES[row][lev]
        if i == 2 and lev == 3:
            st = dict(st, dash="solid")
        xs = [p[0] for p in pts]
        ys = [p[1] for p in pts]
        if closed:
            xs.append(xs[0]); ys.append(ys[0])
        fig.add_trace(go.Scatter(x=xs, y=ys, mode="lines", xaxis=xa, yaxis=ya,
                                 line=dict(color=st["color"], width=st["width"], dash=st["dash"],
                                           shape="spline", smoothing=0.6),
                                 hoverinfo="skip"))
    lx, ly = LABEL_POS[i]
    annotations.append(dict(x=lx, y=ly, xref=xa, yref=ya, text=SECTION_LABELS[i % 3],
                            showarrow=False, xanchor="center", yanchor="middle",
                            font=dict(family=FONT, size=FS, color=TXT)))

for row in range(4):
    x, y = ROW_LABEL_POS[row]
    annotations.append(dict(x=px(x), y=py(y), xref="paper", yref="paper", text=ROW_LABELS[row],
                            showarrow=False, xanchor="center", yanchor="middle",
                            font=dict(family=FONT, size=FS, color=TXT)))
    for k, lab in enumerate(ROW_LEVELS[row]):
        yy = py(LEG_Y[row][k])
        annotations.append(dict(x=px(LEG_TEXT_X[row]), y=yy, xref="paper", yref="paper", text=lab,
                                xanchor="left", yanchor="middle", showarrow=False,
                                font=dict(family=FONT, size=FS, color=TXT)))
        st = ROW_STYLES[row][k]
        shapes.append(dict(type="line", xref="paper", yref="paper",
                           x0=px(LEG_LINE[row][0]), x1=px(LEG_LINE[row][1]), y0=yy, y1=yy,
                           line=dict(color=st["color"], width=st["width"], dash=st["dash"])))

layout["annotations"] = annotations
layout["shapes"] = shapes
fig.update_layout(**layout)
fig.write_html("out.html")
